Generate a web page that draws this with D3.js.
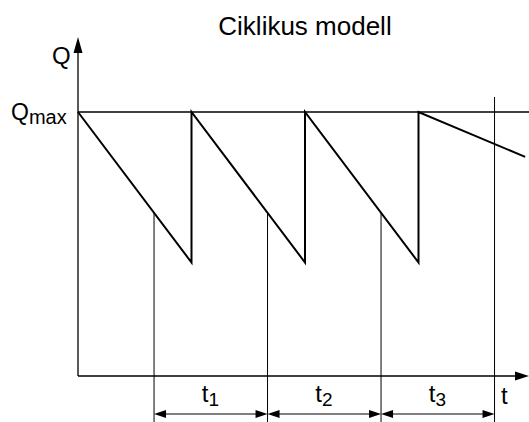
<!DOCTYPE html>
<html>
<head>
<meta charset="utf-8">
<script src="https://cdn.jsdelivr.net/npm/d3@7"></script>
<style>
  body { margin: 0; background: #fff; }
  svg text { font-family: "Liberation Sans", Arial, sans-serif; fill: #000; }
</style>
</head>
<body>
<div id="chart"></div>
<script>
// Ciklikus modell - sawtooth stock level

// sawtooth corner points (t in cycle units, Q relative to Qmax)
const sawT = [0, 1, 1, 2, 2, 3, 3, 3.94];
const sawQ = [1, 0.43, 1, 0.43, 1, 0.43, 1, 0.83];
const qMax = 1;

// dimension marks on the time axis
const markT = [0.67, 1.67, 2.67, 3.67];
const periodLabels = ["1", "2", "3"];

const width = 529, height = 422;

const svg = d3.select("#chart")
    .append("svg")
    .attr("width", width)
    .attr("height", height);

const x = d3.scaleLinear().domain([0, 4]).range([78, 532]);
const y = d3.scaleLinear().domain([0, 1]).range([376, 112]);

const x0 = x(0), yBase = y(0);
const xEnd = 529, yTop = 37;
const dimY = 414;

// title
svg.append("text")
    .attr("x", 305)
    .attr("y", 35)
    .attr("text-anchor", "middle")
    .style("font-size", "26px")
    .text("Ciklikus modell");

// Qmax reference line
svg.append("line")
    .attr("x1", x0).attr("x2", width)
    .attr("y1", y(qMax)).attr("y2", y(qMax))
    .attr("stroke", "#000")
    .attr("stroke-width", 1.3);

// marker lines from the sawtooth down to the bottom
function qAt(t) {
    for (let i = 0; i < sawT.length - 1; i++) {
        if (t >= sawT[i] && t <= sawT[i + 1] && sawT[i + 1] > sawT[i]) {
            const k = (t - sawT[i]) / (sawT[i + 1] - sawT[i]);
            return sawQ[i] + k * (sawQ[i + 1] - sawQ[i]);
        }
    }
    return 1.057;
}

svg.selectAll(".mark")
    .data(markT)
    .enter()
    .append("line")
    .attr("class", "mark")
    .attr("x1", d => x(d)).attr("x2", d => x(d))
    .attr("y1", (d, i) => i === markT.length - 1 ? y(1.057) : y(qAt(d)))
    .attr("y2", height)
    .attr("stroke", "#000")
    .attr("stroke-width", 1);

// axes
svg.append("line")
    .attr("x1", x0).attr("x2", x0)
    .attr("y1", yBase).attr("y2", yTop + 10)
    .attr("stroke", "#000").attr("stroke-width", 1.3);

svg.append("line")
    .attr("x1", x0).attr("x2", xEnd - 10)
    .attr("y1", yBase).attr("y2", yBase)
    .attr("stroke", "#000").attr("stroke-width", 1.3);

svg.append("path")
    .attr("d", `M${x0},${yTop} L${x0 - 4.5},${yTop + 16} L${x0 + 4.5},${yTop + 16} Z`)
    .attr("fill", "#000");

svg.append("path")
    .attr("d", `M${xEnd},${yBase} L${xEnd - 14},${yBase - 4.5} L${xEnd - 14},${yBase + 4.5} Z`)
    .attr("fill", "#000");

// sawtooth
const line = d3.line()
    .x(d => x(d[0]))
    .y(d => y(d[1]));

svg.append("path")
    .datum(sawT.map((t, i) => [t, sawQ[i]]))
    .attr("d", line)
    .attr("fill", "none")
    .attr("stroke", "#000")
    .attr("stroke-width", 2)
    .attr("stroke-linejoin", "miter");

// dimension arrows
const spans = d3.pairs(markT);

const dims = svg.selectAll(".dim")
    .data(spans)
    .enter()
    .append("g")
    .attr("class", "dim");

dims.append("line")
    .attr("x1", d => x(d[0]) + 6).attr("x2", d => x(d[1]) - 6)
    .attr("y1", dimY).attr("y2", dimY)
    .attr("stroke", "#000").attr("stroke-width", 1.2);

dims.append("path")
    .attr("d", d => {
        const a = x(d[0]), b = x(d[1]);
        return `M${a},${dimY} L${a + 12},${dimY - 4} L${a + 12},${dimY + 4} Z` +
               `M${b},${dimY} L${b - 12},${dimY - 4} L${b - 12},${dimY + 4} Z`;
    })
    .attr("fill", "#000");

const lbl = dims.append("text")
    .attr("x", d => (x(d[0]) + x(d[1])) / 2 - 9)
    .attr("y", 402)
    .style("font-size", "24px");

lbl.append("tspan").text("t");
lbl.append("tspan")
    .attr("dy", 4)
    .style("font-size", "19px")
    .text((d, i) => periodLabels[i]);

// axis labels
svg.append("text")
    .attr("x", 52).attr("y", 64)
    .style("font-size", "24px")
    .text("Q");

const qm = svg.append("text")
    .attr("x", 11).attr("y", 120)
    .style("font-size", "23px");
qm.append("tspan").text("Q");
qm.append("tspan").attr("dy", 4).style("font-size", "20px").text("max");

svg.append("text")
    .attr("x", 501).attr("y", 404)
    .style("font-size", "24px")
    .text("t");
</script>
</body>
</html>
